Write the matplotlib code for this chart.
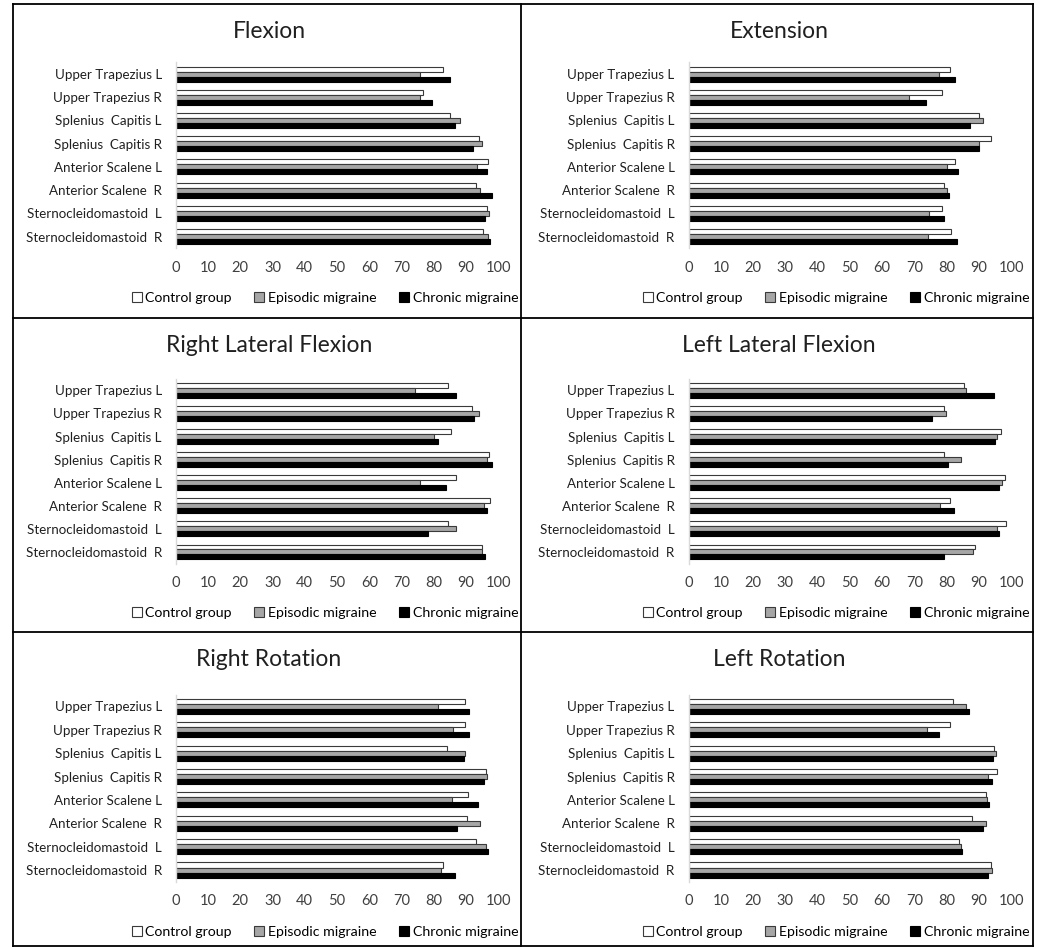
import matplotlib
matplotlib.use("Agg")
import matplotlib.pyplot as plt
from matplotlib.patches import Patch
from matplotlib.lines import Line2D
import numpy as np

plt.rcParams['font.family'] = ['Lato', 'DejaVu Sans']

categories = ["Upper Trapezius L", "Upper Trapezius R", "Splenius  Capitis L", "Splenius  Capitis R",
              "Anterior Scalene L", "Anterior Scalene  R", "Sternocleidomastoid  L", "Sternocleidomastoid  R"]
series_names = ["Control group", "Episodic migraine", "Chronic migraine"]
x_ticks = [0, 10, 20, 30, 40, 50, 60, 70, 80, 90, 100]

titles = ["Flexion", "Extension", "Right Lateral Flexion", "Left Lateral Flexion",
          "Right Rotation", "Left Rotation"]

flexion_control = [82.8, 76.8, 85.0, 94.1, 96.7, 93.1, 96.4, 95.4]
flexion_episodic = [75.8, 75.7, 88.1, 94.9, 93.5, 94.3, 97.1, 96.8]
flexion_chronic = [85.1, 79.4, 86.6, 92.3, 96.4, 98.1, 96.0, 97.3]

extension_control = [81.2, 78.5, 90.0, 93.7, 82.7, 79.2, 78.7, 81.5]
extension_episodic = [77.6, 68.5, 91.2, 89.9, 80.2, 80.2, 74.6, 74.3]
extension_chronic = [82.6, 73.6, 87.4, 90.2, 83.6, 80.7, 79.2, 83.2]

rlf_control = [84.5, 92.0, 85.3, 97.2, 86.8, 97.5, 84.5, 94.9]
rlf_episodic = [74.2, 93.9, 80.1, 96.4, 75.7, 95.7, 86.9, 94.9]
rlf_chronic = [86.8, 92.5, 81.4, 98.0, 83.8, 96.5, 78.1, 95.8]

llf_control = [85.4, 79.2, 96.8, 79.2, 98.2, 81.0, 98.3, 88.9]
llf_episodic = [86.0, 79.8, 95.7, 84.5, 97.3, 78.1, 95.5, 88.1]
llf_chronic = [94.7, 75.5, 95.0, 80.3, 96.4, 82.3, 96.2, 79.1]

rrot_control = [89.8, 89.8, 84.0, 96.1, 90.7, 90.4, 93.2, 83.0]
rrot_episodic = [81.4, 86.1, 89.7, 96.5, 85.7, 94.3, 96.2, 82.1]
rrot_chronic = [90.8, 90.8, 89.5, 95.5, 93.8, 87.3, 96.8, 86.7]

lrot_control = [82.0, 81.2, 94.8, 95.6, 92.1, 87.8, 83.7, 93.7]
lrot_episodic = [86.0, 74.0, 95.3, 92.7, 92.6, 92.1, 84.6, 94.2]
lrot_chronic = [86.9, 77.7, 94.3, 94.0, 93.0, 91.2, 84.7, 92.9]

panel_data = [
    (flexion_control, flexion_episodic, flexion_chronic),
    (extension_control, extension_episodic, extension_chronic),
    (rlf_control, rlf_episodic, rlf_chronic),
    (llf_control, llf_episodic, llf_chronic),
    (rrot_control, rrot_episodic, rrot_chronic),
    (lrot_control, lrot_episodic, lrot_chronic),
]

W, H = 1043, 948
fig = plt.figure(figsize=(W / 100, H / 100), dpi=100)


def box(x0, x1, ytop, ybot):
    return [x0 / W, 1 - ybot / H, (x1 - x0) / W, (ybot - ytop) / H]


col_x = [(175.7, 498.3), (688.5, 1011.1)]
row_y = [(62.4, 248.3), (378.8, 563.5), (694.8, 881.7)]
title_y = [32, 346, 660]
legend_y = [298, 613, 932]
panel_cx = [269, 779]
legend_cx = [325, 836]

fills = ['white', '#a6a6a6', 'black']
edges = ['#3a3a3a', '#3a3a3a', 'black']

for i, (title, data) in enumerate(zip(titles, panel_data)):
    r, c = divmod(i, 2)
    ax = fig.add_axes(box(col_x[c][0], col_x[c][1], row_y[r][0], row_y[r][1]))
    y = np.arange(len(categories))
    h = 0.215
    for k, vals in enumerate(data):
        ax.barh(y + (k - 1) * h, vals, height=h, color=fills[k], edgecolor=edges[k], linewidth=0.8)
    ax.set_ylim(len(categories) - 0.5, -0.5)
    ax.set_xlim(0, 100)
    ax.set_xticks(x_ticks)
    ax.set_xticklabels([str(t) for t in x_ticks], fontsize=10.5, color='#404040')
    ax.set_yticks(y)
    ax.set_yticklabels(categories, fontsize=9.6, color='#202020')
    ax.tick_params(axis='y', length=0, pad=10)
    ax.tick_params(axis='x', length=0, pad=9)
    for s in ['top', 'right', 'bottom']:
        ax.spines[s].set_visible(False)
    ax.spines['left'].set_color('#d9d9d9')
    ax.spines['left'].set_linewidth(1.0)
    fig.text(panel_cx[c] / W, 1 - title_y[r] / H, title, ha='center', va='center', fontsize=16.5, color='#202020')
    handles = [Patch(facecolor=fills[k], edgecolor=edges[k], linewidth=0.8, label=series_names[k]) for k in range(3)]
    fig.legend(handles=handles, loc='center', bbox_to_anchor=(legend_cx[c] / W, 1 - legend_y[r] / H),
               ncol=3, frameon=False, fontsize=10.2, handlelength=0.7, handleheight=0.7,
               handletextpad=0.25, columnspacing=1.6, borderpad=0)

# panel borders
lw = 1.3
left, right, top, bottom = 13, 1033, 4, 946
for (x0, y0, x1, y1) in [(left, top, right, top), (left, bottom, right, bottom),
                         (left, top, left, bottom), (right, top, right, bottom),
                         (521, top, 521, bottom), (left, 318, right, 318), (left, 632, right, 632)]:
    fig.add_artist(Line2D([x0 / W, x1 / W], [1 - y0 / H, 1 - y1 / H], color='black', linewidth=lw))

fig.savefig("out.png", dpi=100)
